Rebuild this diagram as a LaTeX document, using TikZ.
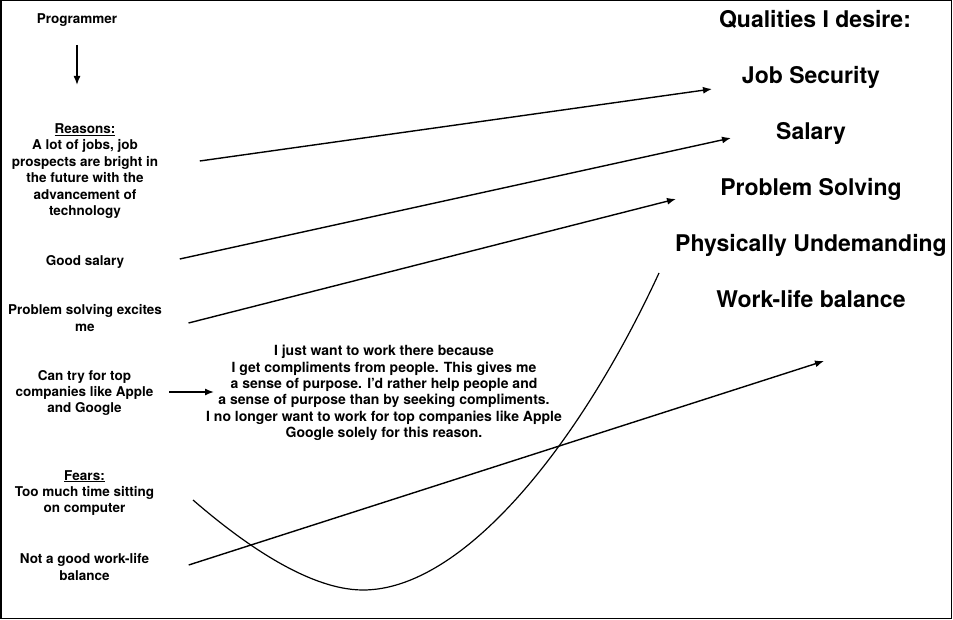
\documentclass[tikz,border=0pt]{standalone}
\usepackage{fontspec}
\setmainfont{TeX Gyre Heros}
\usetikzlibrary{arrows.meta}
\usetikzlibrary{calc}

\tikzset{
  small/.style={font=\bfseries\fontsize{13.5}{16.4}\selectfont,align=center,inner sep=0pt},
  note/.style={small,font=\bfseries\fontsize{14}{16.4}\selectfont},
  large/.style={font=\bfseries\fontsize{23}{26}\selectfont,inner sep=0pt,anchor=base},
  link/.style={-{Latex[length=9pt,width=7pt]},line width=1.4pt}
}

\begin{document}
\begin{tikzpicture}[x=1pt,y=-1pt,line width=1.2pt]
  % Boundary
  \path[use as bounding box] (0,0) rectangle (953,620);
  \draw[line width=1.5pt] (0.75,0.75) rectangle (951.5,618.5);
  % Left column
  \node[small] (prog) at (77,20) {Programmer};
  \node[small] (reasons) at (85,171) {\underline{Reasons:}\\A lot of jobs, job\\prospects are bright in\\the future with the\\advancement of\\technology};
  \node[small] (salgood) at (85,262) {Good salary};
  \node[small] (probsolve) at (85,318) {Problem solving excites\\me};
  \node[small] (apple) at (84.5,393) {Can try for top\\companies like Apple\\and Google};
  \node[small] (fears) at (84.5,493) {\underline{Fears:}\\Too much time sitting\\on computer};
  \node[small] (balance) at (84.5,567) {Not a good work-life\\balance};
  % Middle note
  \node[note] (purpose) at (384,393) {I just want to work there because\\I get compliments from people. This gives me\\a sense of purpose. I'd rather help people and\\a sense of purpose than by seeking compliments.\\I no longer want to work for top companies like Apple\\Google solely for this reason.};
  % Right column
  \node[large] (qual) at (815,28) {Qualities I desire:};
  \node[large] (jobsec) at (811,84) {Job Security};
  \node[large] (salary) at (811,140) {Salary};
  \node[large] (problem) at (811,196) {Problem Solving};
  \node[large] (physical) at (811,252) {Physically Undemanding};
  \node[large] (worklife) at (811,308) {Work-life balance};
  % Free ends
  \coordinate (js-in) at (712,89);
  \coordinate (sal-in) at (731,138);
  \coordinate (ps-in) at (676,199);
  \coordinate (wl-in) at (824,361);
  \coordinate (purp-in) at (214,392);
  % Arrows
  \draw[link] ([yshift=-18pt]prog.south) -- ++(0,40);
  \draw[link] ($(reasons.east)+(41,-10)$) -- (js-in);
  \draw[link] ($(salgood.east)+(55,-3)$) -- (sal-in);
  \draw[link] ($(probsolve.east)+(26,5)$) -- (ps-in);
  \draw[link] ($(apple.east)+(15,-1)$) -- (purp-in);
  \draw[link] ($(balance.east)+(39,-2)$) -- (wl-in);
  % Curve
  \draw (193,500) .. controls (230,532) and (303,590) .. (363,590)
        .. controls (463,590) and (579,446) .. (659,273);
\end{tikzpicture}
\end{document}
